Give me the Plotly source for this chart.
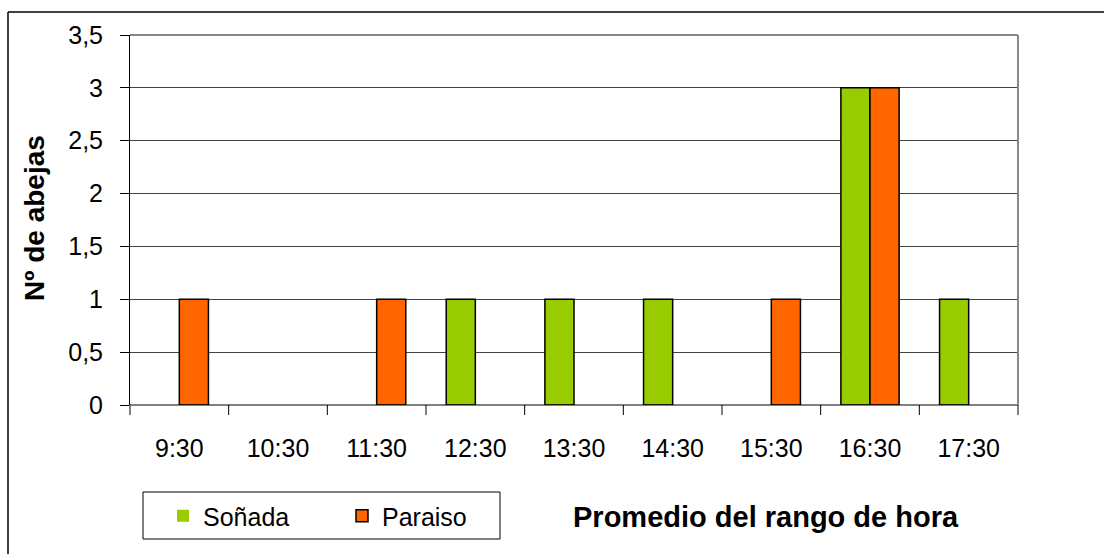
import plotly.graph_objects as go

horas = ["9:30", "10:30", "11:30", "12:30", "13:30", "14:30", "15:30", "16:30", "17:30"]
sonada = [0, 0, 0, 1, 1, 1, 0, 3, 1]
paraiso = [1, 0, 1, 0, 0, 0, 1, 3, 0]

W, H = 1104, 554
L, R, T, B = 130, 1018, 35, 405  # plot area in pixels


def px(x):
    return (x - L) / (R - L)


def py(y):
    return (B - y) / (B - T)


FONT = "Liberation Sans, Arial, sans-serif"


def outline(vals):
    # no outline on empty bars so they don't thicken the baseline
    return [1.5 if v > 0 else 0 for v in vals]


fig = go.Figure()
fig.add_trace(go.Bar(
    name="Soñada", x=horas, y=sonada,
    marker=dict(color="#99CC00", line=dict(color="black", width=outline(sonada))),
))
fig.add_trace(go.Bar(
    name="Paraiso", x=horas, y=paraiso,
    marker=dict(color="#FF6600", line=dict(color="black", width=outline(paraiso))),
))

fig.update_layout(
    width=W, height=H,
    margin=dict(l=L, r=W - R, t=T, b=H - B),
    paper_bgcolor="white", plot_bgcolor="white",
    barmode="group", bargap=0.41, bargroupgap=0,
    separators=",.",
    font=dict(family=FONT, size=24, color="black"),
    showlegend=True,
    legend=dict(
        orientation="h",
        x=px(163), y=py(516), xanchor="left", yanchor="middle",
        borderwidth=0, bgcolor="rgba(0,0,0,0)",
        font=dict(family=FONT, size=25),
        entrywidth=134, entrywidthmode="pixels",
        itemwidth=30,
    ),
    xaxis=dict(
        showgrid=False, showline=False, zeroline=False,
        ticks="", tickfont=dict(size=25),
        ticklabelstandoff=26,
    ),
    yaxis=dict(
        range=[0, 3.5], dtick=0.5, tick0=0,
        showgrid=True, gridcolor="#444444", gridwidth=1,
        showline=True, linecolor="black", linewidth=1,
        zeroline=False,
        ticks="outside", ticklen=9, tickcolor="black",
        tickfont=dict(size=25), ticklabelstandoff=12,
    ),
)

n = len(horas)
shapes = []
# Category separators on the x axis (ticks hang below the baseline)
for i in range(n + 1):
    shapes.append(dict(
        type="line", xref="paper", yref="paper",
        x0=i / n, x1=i / n, y0=0, y1=py(B + 10),
        line=dict(color="black", width=1),
    ))
# Baseline
shapes.append(dict(type="line", xref="paper", yref="paper",
                   x0=0, x1=1, y0=0, y1=0, line=dict(color="black", width=1)))
# Plot area border (top and right in gray)
shapes.append(dict(type="line", xref="paper", yref="paper",
                   x0=0, x1=1, y0=1, y1=1, line=dict(color="#888888", width=2)))
shapes.append(dict(type="line", xref="paper", yref="paper",
                   x0=1, x1=1, y0=0, y1=1, line=dict(color="#888888", width=2)))
# Chart area border (left and top)
shapes.append(dict(type="line", xref="paper", yref="paper",
                   x0=px(8), x1=px(W + 5), y0=py(12), y1=py(12),
                   line=dict(color="black", width=1.5)))
shapes.append(dict(type="line", xref="paper", yref="paper",
                   x0=px(8), x1=px(8), y0=py(12), y1=py(H + 5),
                   line=dict(color="black", width=1.5)))
# Legend frame
shapes.append(dict(type="rect", xref="paper", yref="paper",
                   x0=px(143), x1=px(500), y0=py(492), y1=py(539),
                   line=dict(color="black", width=1)))
fig.update_layout(shapes=shapes)

fig.add_annotation(
    text="<b>Promedio del rango de hora</b>", xref="paper", yref="paper",
    x=px(766), y=py(517), xanchor="center", yanchor="middle",
    showarrow=False, font=dict(family=FONT, size=29),
)
fig.add_annotation(
    text="<b>Nº de abejas</b>", xref="paper", yref="paper",
    x=px(34), y=py(218), xanchor="center", yanchor="middle",
    textangle=-90, showarrow=False, font=dict(family=FONT, size=28),
)

fig.write_html("out.html")
